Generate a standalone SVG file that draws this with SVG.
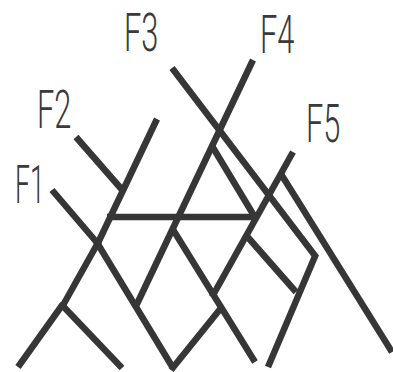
<svg xmlns="http://www.w3.org/2000/svg" width="393" height="372" viewBox="0 0 393 372">
<style>
.ln{stroke:#363636;stroke-width:6.5;stroke-linecap:butt;fill:none}
.lb{font-family:Roboto,"Liberation Sans",Arial,sans-serif;font-weight:300;font-size:53px;fill:#3a3a3a}
</style>
<rect width="393" height="372" fill="#ffffff"/>
<g id="labels">
<g id="F1"><text class="lb" transform="translate(15,203) scale(0.5,1)">F1</text></g>
<g id="F2"><text class="lb" transform="translate(37,128) scale(0.58,1)">F2</text></g>
<g id="F3"><text class="lb" transform="translate(124,51) scale(0.58,1)">F3</text></g>
<g id="F4"><text class="lb" transform="translate(260,53) scale(0.58,1)">F4</text></g>
<g id="F5"><text class="lb" transform="translate(306,142) scale(0.58,1)">F5</text></g>
</g>
<g id="connectors">
<line class="ln" x1="172" y1="68" x2="316" y2="257"/>
<line class="ln" x1="316" y1="254" x2="268" y2="367"/>
<line class="ln" x1="253" y1="60" x2="136" y2="306"/>
<line class="ln" x1="76" y1="137" x2="124" y2="192"/>
<line class="ln" x1="157" y1="119" x2="97" y2="245"/>
<line class="ln" x1="52" y1="190" x2="99" y2="245"/>
<line class="ln" x1="99" y1="241" x2="62" y2="307"/>
<line class="ln" x1="63" y1="304" x2="18" y2="367"/>
<line class="ln" x1="61" y1="304" x2="122" y2="368"/>
<line class="ln" x1="96" y1="241" x2="173" y2="368"/>
<line class="ln" x1="107" y1="217" x2="255" y2="217"/>
<line class="ln" x1="212" y1="146" x2="256" y2="219"/>
<line class="ln" x1="293" y1="152" x2="212" y2="297"/>
<line class="ln" x1="281" y1="174" x2="392" y2="352"/>
<line class="ln" x1="245" y1="234" x2="296" y2="292"/>
<line class="ln" x1="172" y1="228" x2="255" y2="362"/>
<line class="ln" x1="171" y1="370" x2="221" y2="308"/>
</g>
</svg>
